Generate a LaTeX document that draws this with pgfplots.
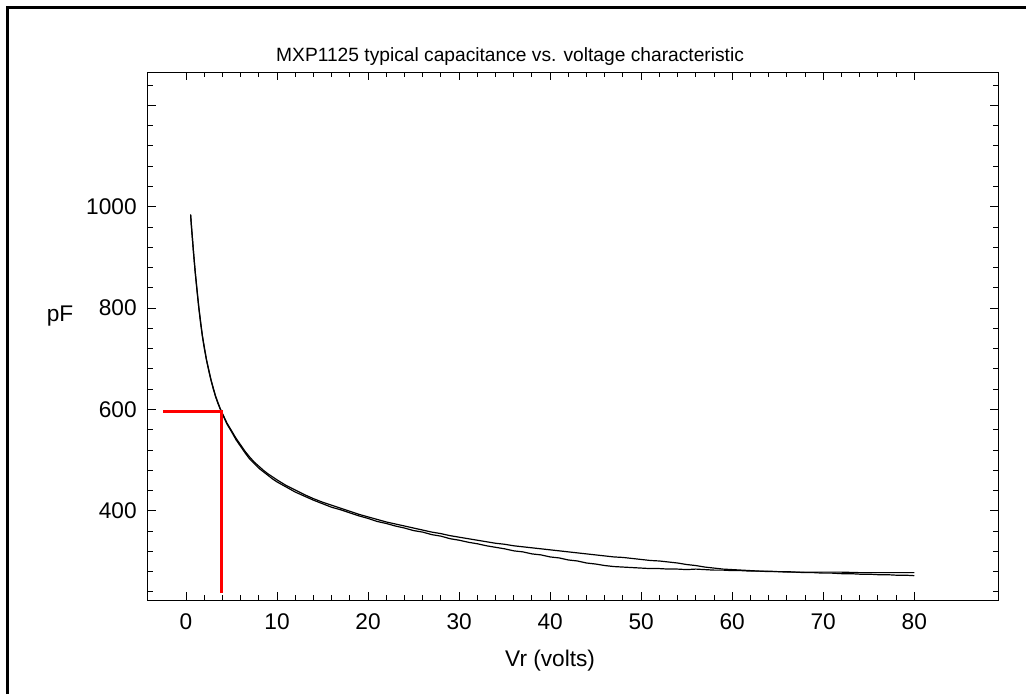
\documentclass[border=0pt]{standalone}
\usepackage{fontspec}
\setmainfont{Liberation Sans}
\usepackage{pgfplots}
\pgfplotsset{compat=1.18}

% lower sweep
\pgfplotstableread{
x y
0.5 985
0.6 959
0.7 937
0.8 914
0.9 893
1.0 872
1.2 835
1.4 801
1.6 770
1.8 744
2.0 721
2.25 697
2.5 676
2.75 657
3.0 640
3.25 625
3.5 612
3.75 601
4.0 591
4.5 571
5.0 556
5.5 540
6.0 527
6.5 514
7.0 502
7.5 493
8.0 484
8.5 477
9.0 470
9.5 463
10 457
11 447
12 437
13 429
14 421
15 414
16 407
17 402
18 396
19 390
20 385
21 379
22 375
23 370
24 366
25 361
26 358
27 353
28 350
29 345
30 342
31 338
32 335
33 331
34 328
35 325
36 321
37 319
38 315
39 313
40 309
41 307
42 303
43 301
44 297
45 295
46 292
47 290
48 289
49 288
50 287
51 286
52 286
53 285
54 285
55 284
56 285
57 284
58 283
59 283
60 282
61 282
62 281
63 281
64 280
65 280
66 279
67 279
68 278
69 278
70 277
71 277
72 276
73 276
74 275
75 275
76 274
77 274
78 273
79 273
80 272
}\sweepdown

% upper sweep
\pgfplotstableread{
x y
0.5 984
0.8 915
1.0 873
1.4 802
1.8 745
2.25 698
2.75 658
3.25 626
3.75 602
4.0 592
4.5 573
5.0 558
5.5 543
6.0 530
6.5 517
7.0 506
7.5 496
8.0 488
8.5 480
9.0 473
9.5 467
10 461
11 450
12 441
13 432
14 424
15 417
16 411
17 405
18 399
19 393
20 388
21 383
22 378
23 374
24 370
25 366
26 362
27 358
28 355
29 351
30 348
31 345
32 342
33 339
34 336
35 334
36 331
37 329
38 327
39 325
40 323
41 321
42 319
43 317
44 315
45 313
46 311
47 309
48 308
49 306
50 304
51 302
52 301
53 299
54 297
55 294
56 292
57 289
58 287
59 285
60 284
61 283
62 282
63 281
64 281
65 280
66 280
67 279
68 279
69 279
70 279
72 279
74 278
76 278
78 278
80 278
}\sweepup

\begin{document}
\begin{tikzpicture}
\path[use as bounding box] (-111pt,-70.5pt) rectangle (658.5pt,450pt);
\draw[line width=2.25pt] (-105.4pt,-70.5pt) -- (-105.4pt,444.4pt) -- (658.5pt,444.4pt);
\begin{axis}[
    at={(0,0)}, anchor=south west,
    scale only axis,
    width=637.5pt, height=396pt,
    xmin=-4.18, xmax=89.2,
    ymin=224, ymax=1266,
    xtick={0,10,...,80},
    minor xtick={2,4,...,78},
    ytick={400,600,800,1000,1200},
    yticklabels={400,600,800,1000,},
    minor ytick={240,280,...,1240},
    tick align=inside,
    major tick length=6pt,
    minor tick length=3.5pt,
    axis line style={line width=0.75pt},
    every tick/.style={black, line width=0.75pt},
    tick label style={font=\fontsize{17}{19}\selectfont},
    /pgf/number format/assume math mode=true,
    xticklabel style={anchor=base, yshift=-22pt},
    yticklabel style={xshift=-5pt},
    clip=false,
]
\addplot[black, line width=0.9pt] table {\sweepdown};
\addplot[black, line width=0.9pt] table {\sweepup};
\addplot[red, line width=2.25pt] coordinates {(-2.5,596) (3.92,596) (3.92,237)};

\node[anchor=base, font=\fontsize{14.4}{16}\selectfont]
    at (axis cs:35.6,1266) [yshift=8.25pt] {MXP1125 typical capacitance vs. voltage characteristic};
\node[anchor=base, font=\fontsize{17}{19}\selectfont]
    at (axis cs:40,224) [yshift=-49.5pt] {Vr (volts)};
\node[anchor=base, font=\fontsize{17}{19}\selectfont]
    at (axis cs:-4.18,773) [xshift=-66pt] {pF};
\end{axis}
\end{tikzpicture}
\end{document}
